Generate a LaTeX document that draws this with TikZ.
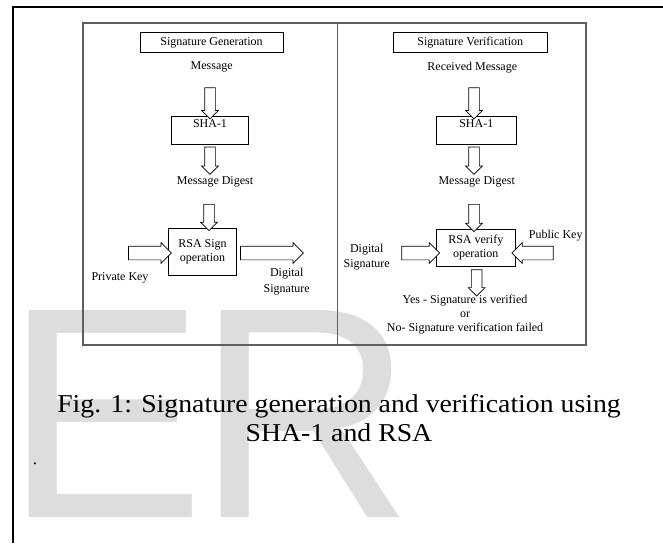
\documentclass[tikz,border=0pt]{standalone}
\usepackage{fontspec}
\setmainfont{Liberation Serif}
\newfontfamily\capfont[FakeStretch=1.08]{Liberation Serif}
\newfontfamily\wmfont{Liberation Sans}
\usetikzlibrary{shapes.arrows,calc}
\definecolor{wmgray}{RGB}{221,221,221}
\definecolor{panelgray}{RGB}{95,95,95}

\tikzset{
  lbl/.style={inner sep=0pt, font=\fontsize{12}{14}\selectfont, align=center},
  titlebox/.style={lbl, draw, line width=0.8pt, minimum height=19.6pt},
  procbox/.style={lbl, draw, line width=0.9pt},
  blockarrow/.style={single arrow, draw, fill=white, line width=0.7pt, inner xsep=0pt,
    inner ysep=5pt, single arrow head extend=3pt},
  sidearrow/.style={blockarrow, inner ysep=6.5pt, single arrow head extend=3.5pt},
  wmark/.style={wmgray, font=\wmfont\fontsize{301}{301}\selectfont, inner sep=0pt, anchor=base west}
}

\begin{document}
\begin{tikzpicture}[x=1pt, y=-1pt]
	\useasboundingbox (0,0) rectangle (663,543);
	
	% watermark
	\node[wmark] (wmE) at (4.1,517) {E};
	\node[wmark] (wmR) at (196.3,517) {R};
	
	% page frame and panels
	\draw[line width=2pt] (12.7,543) -- (12.7,7) -- (663,7);
	\draw[panelgray, line width=1.3pt] (83,23) rectangle (586,345);
	\draw[panelgray, line width=1.3pt] (337.5,23) -- (337.5,345);
	
	% generation side
	\node[titlebox, minimum width=143pt] (sgen) at (211.5,42.5) {Signature Generation};
	\node[lbl] (msgL) at (211.7,67.3) {Message};
	\node[procbox, minimum width=76.6pt, minimum height=27.3pt, text height=8pt, text depth=14pt] (shaL) at (210,130.3) {SHA-1};
	\node[lbl] (digL) at (215,182.3) {Message Digest};
	\node[procbox, minimum width=68.4pt, minimum height=46.7pt] (rsaL) at (202.5,251.7) {RSA Sign\\operation};
	\node[lbl] (pkey) at (120,278.3) {Private Key};
	\node[lbl, font=\fontsize{12}{15.3}\selectfont] (dsigL) at (286.7,281.7) {Digital\\Signature};
	
	\coordinate (aL1) at (210,85);
	\coordinate (aL2) at (210,171.7);
	\coordinate (aL3) at (209,201.7);
	\coordinate (kL) at (125,253);
	\coordinate (oL) at (300,253);
	
	\path let \p1=($(shaL.north)-(aL1)$), \n1={veclen(\x1,\y1)} in
		(aL1) -- (shaL.north) node[midway, sloped, allow upside down, blockarrow, minimum height=\n1] {};
	\path let \p1=($(aL2)-(shaL.south)$), \n1={veclen(\x1,\y1)} in
		(shaL.south) -- (aL2) node[midway, sloped, allow upside down, blockarrow, minimum height=\n1] {};
	\path let \p1=($(aL3 |- rsaL.north)-(aL3)$), \n1={veclen(\x1,\y1)} in
		(aL3) -- (aL3 |- rsaL.north) node[midway, sloped, allow upside down, blockarrow, minimum height=\n1] {};
	\path let \p1=($(kL -| rsaL.west)-(kL)$), \n1={veclen(\x1,\y1)} in
		(kL) -- (kL -| rsaL.west) node[midway, sloped, allow upside down, sidearrow, minimum height=\n1] {};
	\path let \p1=($(oL)-(oL -| rsaL.east)$), \n1={veclen(\x1,\y1)} in
		(oL -| rsaL.east) -- (oL) node[midway, sloped, allow upside down, sidearrow, minimum height=\n1] {};
	
	% verification side
	\node[titlebox, minimum width=154pt] (svrf) at (470.3,42.5) {Signature Verification};
	\node[lbl] (msgR) at (472.3,67.3) {Received Message};
	\node[procbox, minimum width=80.7pt, minimum height=27.3pt, text height=8pt, text depth=14pt] (shaR) at (476.3,130.3) {SHA-1};
	\node[lbl] (digR) at (476.7,182.3) {Message Digest};
	\node[procbox, minimum width=78.3pt, minimum height=37.4pt] (rsaR) at (475.8,248) {RSA verify\\operation};
	\node[lbl, font=\fontsize{12}{15.3}\selectfont] (dsigR) at (366.7,257) {Digital\\Signature};
	\node[lbl] (pubk) at (555.7,235.7) {Public Key};
	\node[lbl, font=\fontsize{12}{13.7}\selectfont] (result) at (465,314.7) {Yes - Signature is verified\\or\\No- Signature verification failed};
	
	\coordinate (aR1) at (474,85);
	\coordinate (aR2) at (474,171.7);
	\coordinate (aR3) at (474,201.7);
	\coordinate (kR) at (398.3,253);
	\coordinate (pR) at (556.7,253);
	\coordinate (oR) at (476.7,293.3);
	
	\path let \p1=($(aR1 |- shaR.north)-(aR1)$), \n1={veclen(\x1,\y1)} in
		(aR1) -- (aR1 |- shaR.north) node[midway, sloped, allow upside down, blockarrow, minimum height=\n1] {};
	\path let \p1=($(aR2)-(aR2 |- shaR.south)$), \n1={veclen(\x1,\y1)} in
		(aR2 |- shaR.south) -- (aR2) node[midway, sloped, allow upside down, blockarrow, minimum height=\n1] {};
	\path let \p1=($(aR3 |- rsaR.north)-(aR3)$), \n1={veclen(\x1,\y1)} in
		(aR3) -- (aR3 |- rsaR.north) node[midway, sloped, allow upside down, blockarrow, minimum height=\n1] {};
	\path let \p1=($(kR -| rsaR.west)-(kR)$), \n1={veclen(\x1,\y1)} in
		(kR) -- (kR -| rsaR.west) node[midway, sloped, allow upside down, sidearrow, minimum height=\n1] {};
	\path let \p1=($(pR -| rsaR.east)-(pR)$), \n1={veclen(\x1,\y1)} in
		(pR) -- (pR -| rsaR.east) node[midway, sloped, allow upside down, sidearrow, minimum height=\n1] {};
	\path let \p1=($(oR)-(oR |- rsaR.south)$), \n1={veclen(\x1,\y1)} in
		(oR |- rsaR.south) -- (oR) node[midway, sloped, allow upside down, blockarrow, minimum height=\n1] {};
	
	% caption
	\node[font=\capfont\fontsize{25.7}{29.7}\selectfont, align=center, inner sep=0pt] (cap) at (339,418) {Fig. 1: Signature generation and verification using\\SHA-1 and RSA};
	\node[font=\capfont\fontsize{16}{16}\selectfont, inner sep=0pt] (dot) at (35,464) {.};
\end{tikzpicture}
\end{document}
